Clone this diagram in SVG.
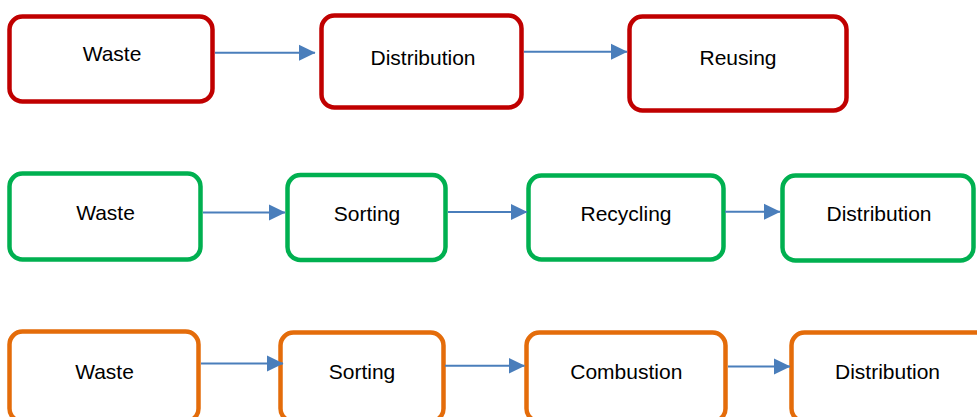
<svg xmlns="http://www.w3.org/2000/svg" width="977" height="417" viewBox="0 0 977 417">
  <style>
    .box { fill: #ffffff; stroke-width: 4.5; }
    .red { stroke: #C00000; }
    .green { stroke: #00B050; }
    .orange { stroke: #E46C0A; }
    .label { font-family: "Liberation Sans", Arial, sans-serif; font-size: 21px; fill: #000000; text-anchor: middle; }
    .flow { stroke: #4A7EBB; stroke-width: 2; fill: none; marker-end: url(#head); }
  </style>
  <defs>
    <marker id="head" markerUnits="userSpaceOnUse" markerWidth="17" markerHeight="17" viewBox="0 0 17 17" refX="16" refY="8.5" orient="auto">
      <path d="M0,0.5 L16.5,8.5 L0,16.5 Z" fill="#4A7EBB"/>
    </marker>
  </defs>
  <rect width="977" height="417" fill="#ffffff"/>

  <!-- reuse chain -->
  <g id="r1-waste"><rect class="box red" x="9.5" y="16.5" width="203" height="85" rx="13"/><text class="label" x="112" y="61">Waste</text></g>
  <g id="r1-distribution"><rect class="box red" x="321.5" y="15.5" width="200" height="92" rx="13"/><text class="label" x="423" y="65">Distribution</text></g>
  <g id="r1-reusing"><rect class="box red" x="629.5" y="16.5" width="217" height="94" rx="13"/><text class="label" x="738" y="65">Reusing</text></g>

  <!-- recycling chain -->
  <g id="r2-waste"><rect class="box green" x="9.5" y="173.5" width="191" height="86" rx="13"/><text class="label" x="105.5" y="220">Waste</text></g>
  <g id="r2-sorting"><rect class="box green" x="287.5" y="175" width="158" height="85" rx="13"/><text class="label" x="367" y="220.5">Sorting</text></g>
  <g id="r2-recycling"><rect class="box green" x="528.5" y="175.5" width="195" height="84" rx="13"/><text class="label" x="626" y="220.5">Recycling</text></g>
  <g id="r2-distribution"><rect class="box green" x="782.5" y="175.5" width="191" height="85" rx="13"/><text class="label" x="879" y="220.5">Distribution</text></g>

  <!-- combustion chain -->
  <g id="r3-waste"><rect class="box orange" x="9.5" y="331.5" width="189" height="90" rx="13"/><text class="label" x="104.5" y="378.5">Waste</text></g>
  <g id="r3-sorting"><rect class="box orange" x="280.5" y="332.5" width="163" height="89" rx="13"/><text class="label" x="362" y="378.5">Sorting</text></g>
  <g id="r3-combustion"><rect class="box orange" x="526.5" y="332.5" width="199" height="89" rx="13"/><text class="label" x="626.3" y="378.5">Combustion</text></g>
  <g id="r3-distribution"><rect class="box orange" x="791.5" y="332.5" width="200" height="89" rx="13"/><text class="label" x="887.5" y="378.5">Distribution</text></g>

  <g id="connectors">
    <line class="flow" x1="215" y1="52.7" x2="315" y2="52.7"/>
    <line class="flow" x1="524" y1="51.7" x2="627" y2="51.7"/>
    <line class="flow" x1="203" y1="212.5" x2="285" y2="212.5"/>
    <line class="flow" x1="448" y1="212" x2="527" y2="212"/>
    <line class="flow" x1="725" y1="211.7" x2="780" y2="211.7"/>
    <line class="flow" x1="201" y1="363.5" x2="283" y2="363.5"/>
    <line class="flow" x1="445" y1="365.7" x2="524.5" y2="365.7"/>
    <line class="flow" x1="728" y1="366.5" x2="790" y2="366.5"/>
  </g>
</svg>
